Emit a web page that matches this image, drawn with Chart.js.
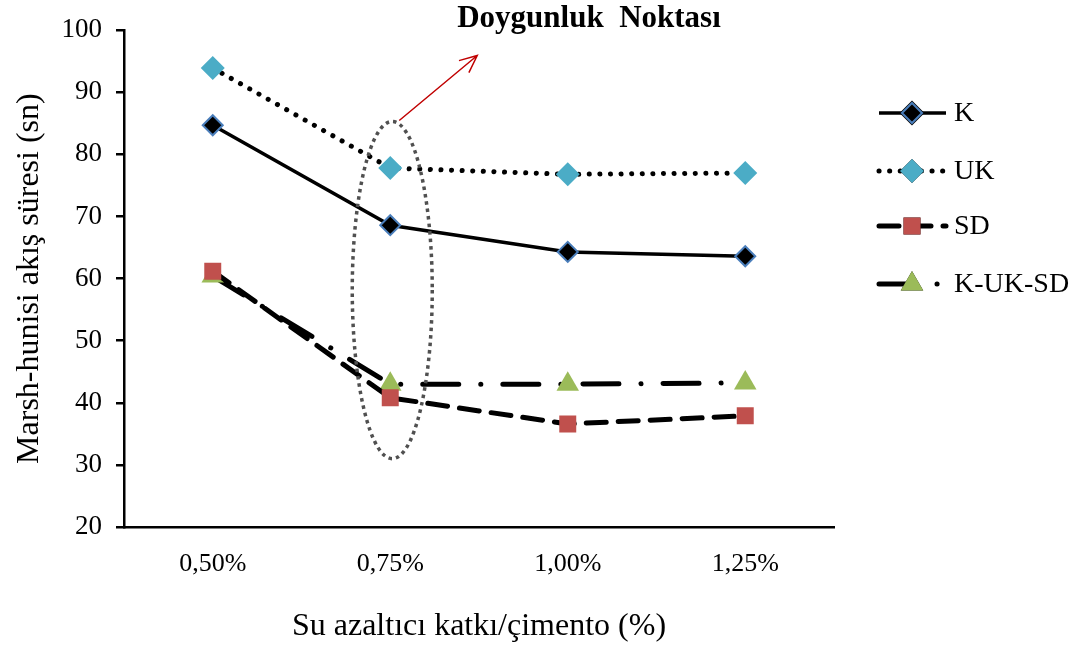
<!DOCTYPE html>
<html>
<head>
<meta charset="utf-8">
<script src="https://cdn.jsdelivr.net/npm/chart.js@4.4.1/dist/chart.umd.min.js"></script>
<style>
  body { margin: 0; background: #fff; }
  #wrap { width: 1082px; height: 648px; }
</style>
</head>
<body>
<div id="wrap"><canvas id="myChart" width="1082" height="648"></canvas></div>
<script>
// data
var labels = ['0,50%', '0,75%', '1,00%', '1,25%'];
var kValues = [84.7, 68.6, 64.3, 63.6];
var ukValues = [93.9, 77.8, 76.8, 77.0];
var sdValues = [61.2, 40.8, 36.6, 37.9];
var kuksdValues = [60.4, 43.0, 43.0, 43.2];
var yTicks = [20, 30, 40, 50, 60, 70, 80, 90, 100];

var serif = '"Liberation Serif", "Times New Roman", serif';

// draws the saturation ellipse, arrow, note and the legend
var extras = {
    id: 'extras',
    afterDatasetsDraw: function (chart) {
        var ctx = chart.ctx;
        var x = chart.scales.x, y = chart.scales.y;
        var cx = x.getPixelForValue(1) + 2;
        var top = y.getPixelForValue(85.3);
        var bot = y.getPixelForValue(31.0);

        ctx.save();
        ctx.strokeStyle = '#505050';
        ctx.lineWidth = 3.5;
        ctx.setLineDash([3.5, 4]);
        ctx.beginPath();
        ctx.ellipse(cx, (top + bot) / 2, 40, (bot - top) / 2, 0, 0, Math.PI * 2);
        ctx.stroke();

        // red arrow
        ctx.setLineDash([]);
        ctx.strokeStyle = '#c00000';
        ctx.lineWidth = 1.5;
        var ax = cx + 7, ay = top - 1, bx = cx + 85, by = top - 66;
        ctx.beginPath();
        ctx.moveTo(ax, ay);
        ctx.lineTo(bx, by);
        var ang = Math.atan2(by - ay, bx - ax);
        ctx.moveTo(bx - 19 * Math.cos(ang - 0.42), by - 19 * Math.sin(ang - 0.42));
        ctx.lineTo(bx, by);
        ctx.lineTo(bx - 19 * Math.cos(ang + 0.42), by - 19 * Math.sin(ang + 0.42));
        ctx.stroke();

        ctx.fillStyle = '#000';
        ctx.font = 'bold 31px ' + serif;
        ctx.textAlign = 'center';
        ctx.textBaseline = 'middle';
        ctx.fillText('Doygunluk  Noktası', 589, 19);

        // legend
        var rows = [113, 171, 226, 284];
        chart.data.datasets.forEach(function (ds, i) {
            var ly = rows[i];
            ctx.strokeStyle = ds.borderColor;
            ctx.lineWidth = ds.borderWidth;
            ctx.lineCap = ds.borderCapStyle || 'butt';
            ctx.setLineDash(ds.borderDash || []);
            ctx.beginPath();
            ctx.moveTo(879, ly);
            ctx.lineTo(946, ly);
            ctx.stroke();
            ctx.setLineDash([]);
            ctx.lineCap = 'butt';
            Chart.helpers.drawPoint(ctx, {
                pointStyle: ds.pointStyle,
                radius: ds.pointRadius,
                borderWidth: ds.pointBorderWidth,
                rotation: 0
            }, 912, ly);
            ctx.fillStyle = ds.pointBackgroundColor;
            ctx.strokeStyle = ds.pointBorderColor;
            ctx.lineWidth = ds.pointBorderWidth;
            ctx.fill();
            if (ds.pointBorderWidth > 0) ctx.stroke();
            ctx.fillStyle = '#000';
            ctx.font = '28px ' + serif;
            ctx.textAlign = 'left';
            ctx.fillText(ds.label, 954, ly + 1);
        });
        ctx.restore();
    }
};

let myChart = document.getElementById('myChart').getContext('2d');

let flowChart = new Chart(myChart, {
    type: 'line',
    data: {
        labels,
        datasets: [{
            label: 'K',
            data: kValues,
            borderColor: '#000',
            borderWidth: 3.5,
            pointStyle: 'rectRot',
            pointRadius: 10,
            pointHoverRadius: 10,
            pointBackgroundColor: '#000',
            pointBorderColor: '#4a7ebb',
            pointBorderWidth: 2
        }, {
            label: 'UK',
            data: ukValues,
            borderColor: '#000',
            borderWidth: 5,
            borderDash: [0.1, 10.5],
            borderCapStyle: 'round',
            pointStyle: 'rectRot',
            pointRadius: 12,
            pointHoverRadius: 12,
            pointBackgroundColor: '#4bacc6',
            pointBorderColor: '#4bacc6',
            pointBorderWidth: 0
        }, {
            label: 'SD',
            data: sdValues,
            borderColor: '#000',
            borderWidth: 5,
            borderDash: [20, 12],
            borderCapStyle: 'round',
            pointStyle: 'rect',
            pointRadius: 12,
            pointHoverRadius: 12,
            pointBackgroundColor: '#c0504d',
            pointBorderColor: '#c0504d',
            pointBorderWidth: 0
        }, {
            label: 'K-UK-SD',
            data: kuksdValues,
            borderColor: '#000',
            borderWidth: 5,
            borderDash: [36, 22, 0.1, 22],
            borderCapStyle: 'round',
            pointStyle: 'triangle',
            pointRadius: 13,
            pointHoverRadius: 13,
            pointBackgroundColor: '#9bbb59',
            pointBorderColor: '#9bbb59',
            pointBorderWidth: 0
        }]
    },
    options: {
        responsive: false,
        animation: false,
        layout: { padding: { top: 30, right: 248, left: 0, bottom: 0 } },
        plugins: {
            legend: { display: false },
            tooltip: { enabled: false }
        },
        scales: {
            x: {
                offset: true,
                grid: { display: false, drawTicks: false },
                border: { color: '#000', width: 2.5 },
                ticks: { color: '#000', font: { family: serif, size: 26 }, padding: 22 },
                title: {
                    display: true,
                    text: 'Su azaltıcı katkı/çimento (%)',
                    color: '#000',
                    font: { family: serif, size: 32 },
                    padding: { top: 0, bottom: 2 }
                },
                afterFit: function (s) { s.height = 121; }
            },
            y: {
                min: 20,
                max: 100,
                afterBuildTicks: function (s) { s.ticks = yTicks.map(function (v) { return { value: v }; }); },
                grid: { drawOnChartArea: false, drawTicks: true, tickLength: 8, color: '#000', lineWidth: 2.5 },
                border: { color: '#000', width: 2.5 },
                ticks: { color: '#000', font: { family: serif, size: 27 }, padding: 14 },
                title: {
                    display: true,
                    text: 'Marsh-hunisi akış süresi (sn)',
                    color: '#000',
                    font: { family: serif, size: 32 },
                    padding: { top: 10, bottom: 0 }
                },
                afterFit: function (s) { s.width = 124; }
            }
        }
    },
    plugins: [extras]
});
</script>
</body>
</html>
